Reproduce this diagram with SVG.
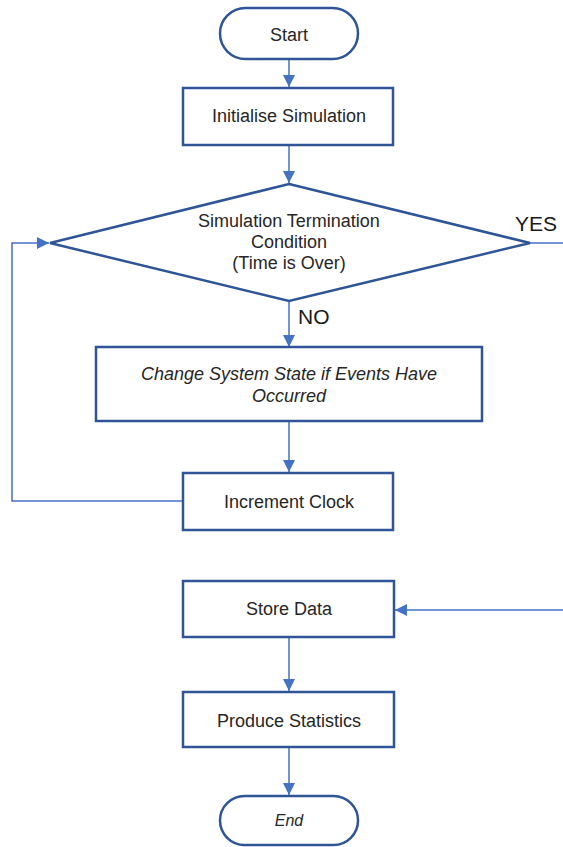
<svg xmlns="http://www.w3.org/2000/svg" width="563" height="847" viewBox="0 0 563 847">
<style>
.node{fill:#ffffff;stroke:#2F5597;stroke-width:2.5}
.conn{fill:none;stroke:#4472C4;stroke-width:1.5}
.t{font-family:"Liberation Sans",Arial,sans-serif;font-size:18px;fill:#262626;text-anchor:middle}
.i{font-style:italic}
.lbl{font-family:"Liberation Sans",Arial,sans-serif;font-size:21px;fill:#1a1a1a}
</style>
<defs>
<marker id="ah" markerUnits="userSpaceOnUse" markerWidth="12" markerHeight="12" viewBox="0 0 12 12" refX="12" refY="6" orient="auto">
<path d="M0,0 L12,6 L0,12 Z" fill="#4472C4"/>
</marker>
</defs>
<g id="connectors">
<line class="conn" x1="289" y1="59" x2="289" y2="87" marker-end="url(#ah)"/>
<line class="conn" x1="289" y1="145" x2="289" y2="183" marker-end="url(#ah)"/>
<line class="conn" x1="289" y1="301" x2="289" y2="347" marker-end="url(#ah)"/>
<line class="conn" x1="289" y1="421" x2="289" y2="472" marker-end="url(#ah)"/>
<polyline class="conn" points="183,501 12,501 12,243 49,243" marker-end="url(#ah)"/>
<line class="conn" x1="530" y1="243" x2="563" y2="243"/>
<line class="conn" x1="563" y1="610" x2="395" y2="610" marker-end="url(#ah)"/>
<line class="conn" x1="289" y1="637" x2="289" y2="691" marker-end="url(#ah)"/>
<line class="conn" x1="289" y1="747" x2="289" y2="795" marker-end="url(#ah)"/>
<text class="lbl" x="515" y="231">YES</text>
<text class="lbl" x="298" y="324">NO</text>
</g>
<g id="start">
<rect class="node" x="220" y="8" width="138" height="51" rx="25.5"/>
<text class="t" x="289" y="41">Start</text>
</g>
<g id="init">
<rect class="node" x="183" y="88" width="210" height="57"/>
<text class="t" x="289" y="122">Initialise Simulation</text>
</g>
<g id="decision">
<polygon class="node" points="289,184 530,243 289,301 50,243"/>
<text class="t" x="289" y="227">Simulation Termination</text>
<text class="t" x="289" y="248">Condition</text>
<text class="t" x="289" y="269">(Time is Over)</text>
</g>
<g id="change">
<rect class="node" x="96" y="347" width="386" height="74"/>
<text class="t i" x="289" y="380">Change System State if Events Have</text>
<text class="t i" x="289" y="402">Occurred</text>
</g>
<g id="clock">
<rect class="node" x="183" y="473" width="210" height="57"/>
<text class="t" x="289" y="508">Increment Clock</text>
</g>
<g id="store">
<rect class="node" x="183" y="581" width="211" height="56"/>
<text class="t" x="289" y="615">Store Data</text>
</g>
<g id="stats">
<rect class="node" x="183" y="692" width="211" height="55"/>
<text class="t" x="289" y="727">Produce Statistics</text>
</g>
<g id="end">
<rect class="node" x="220" y="796" width="138" height="49" rx="24.5"/>
<text class="t i" x="289" y="826" style="font-size:16px">End</text>
</g>
</svg>
